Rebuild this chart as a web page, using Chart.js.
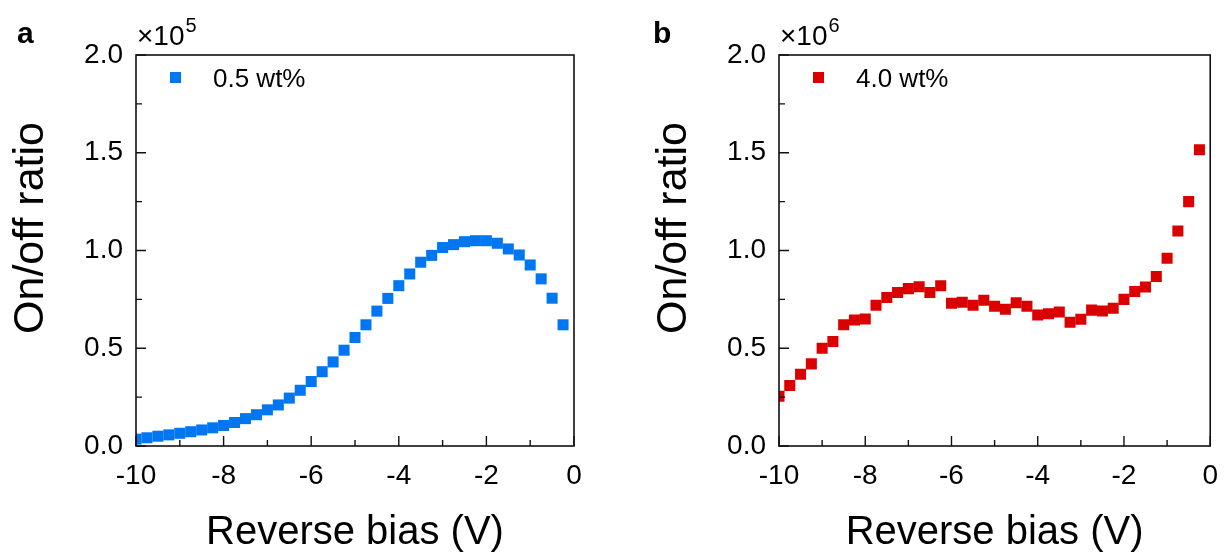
<!DOCTYPE html>
<html>
<head>
<meta charset="utf-8">
<title>On/off ratio vs reverse bias</title>
<script src="https://cdn.jsdelivr.net/npm/chart.js@4.4.1/dist/chart.umd.min.js"></script>
<style>
  html, body { margin: 0; padding: 0; background: #fff; }
  body { width: 1231px; height: 557px; position: relative; overflow: hidden; }
  .panel { position: absolute; top: 0; height: 557px; }
  #panelA { left: 0; width: 615px; }
  #panelB { left: 640px; width: 591px; }
</style>
</head>
<body>
<div class="panel" id="panelA"><canvas id="chartA"></canvas></div>
<div class="panel" id="panelB"><canvas id="chartB"></canvas></div>
<script>
// Reverse bias (V), one reading every 0.25 V
const reverseBias = [
  -10, -9.75, -9.5, -9.25, -9, -8.75, -8.5, -8.25, -8, -7.75,
  -7.5, -7.25, -7, -6.75, -6.5, -6.25, -6, -5.75, -5.5, -5.25,
  -5, -4.75, -4.5, -4.25, -4, -3.75, -3.5, -3.25, -3, -2.75,
  -2.5, -2.25, -2, -1.75, -1.5, -1.25, -1, -0.75, -0.5, -0.25
];

// On/off ratio, 0.5 wt% (units of 1e5)
const ratioA = [
  0.035, 0.042, 0.05, 0.057, 0.065, 0.073, 0.082, 0.093, 0.105, 0.12,
  0.14, 0.16, 0.185, 0.21, 0.245, 0.285, 0.33, 0.38, 0.43, 0.49,
  0.555, 0.62, 0.69, 0.755, 0.82, 0.88, 0.94, 0.975, 1.015, 1.03,
  1.045, 1.05, 1.05, 1.037, 1.008, 0.977, 0.926, 0.855, 0.756, 0.62
];

// On/off ratio, 4.0 wt% (units of 1e6)
const ratioB = [
  0.255, 0.31, 0.367, 0.42, 0.5, 0.535, 0.62, 0.645, 0.65, 0.72,
  0.76, 0.785, 0.805, 0.815, 0.785, 0.82, 0.73, 0.735, 0.72, 0.745,
  0.715, 0.7, 0.733, 0.715, 0.67, 0.677, 0.685, 0.633, 0.648, 0.695,
  0.69, 0.705, 0.75, 0.79, 0.813, 0.867, 0.96, 1.1, 1.25, 1.515
];

const xTicks = [-10, -8, -6, -4, -2, 0];
const xMinorTicks = [-9, -7, -5, -3, -1];
const yTicks = [0, 0.5, 1.0, 1.5, 2.0];
const yMinorTicks = [0.25, 0.75, 1.25, 1.75];

const FONT = '"Liberation Sans", Arial, Helvetica, sans-serif';
Chart.defaults.font.family = FONT;
Chart.defaults.color = '#000';

// frame, inward ticks, y title, multiplier, panel letter and legend
const framePlugin = {
  id: 'frame',
  afterDraw(chart, args, opts) {
    const { ctx, chartArea: a } = chart;
    const x = chart.scales.x, y = chart.scales.y;
    ctx.save();
    ctx.strokeStyle = '#111';
    ctx.lineWidth = 1.6;
    ctx.strokeRect(a.left, a.top, a.right - a.left, a.bottom - a.top);

    ctx.lineWidth = 1.4;
    ctx.beginPath();
    xTicks.forEach(v => { const p = x.getPixelForValue(v); ctx.moveTo(p, a.bottom); ctx.lineTo(p, a.bottom - 10); });
    xMinorTicks.forEach(v => { const p = x.getPixelForValue(v); ctx.moveTo(p, a.bottom); ctx.lineTo(p, a.bottom - 6); });
    yTicks.forEach(v => { const p = y.getPixelForValue(v); ctx.moveTo(a.left, p); ctx.lineTo(a.left + 10, p); });
    yMinorTicks.forEach(v => { const p = y.getPixelForValue(v); ctx.moveTo(a.left, p); ctx.lineTo(a.left + 6, p); });
    ctx.stroke();

    ctx.fillStyle = '#000';

    // y axis title, rotated
    ctx.save();
    ctx.translate(a.left - 105, 228);
    ctx.rotate(-Math.PI / 2);
    ctx.textAlign = 'center';
    ctx.textBaseline = 'middle';
    ctx.font = '43px ' + FONT;
    ctx.fillText('On/off ratio', 0, 0);
    ctx.restore();

    ctx.textBaseline = 'alphabetic';
    ctx.textAlign = 'left';
    // x10^n above the y axis
    ctx.font = '28px ' + FONT;
    ctx.fillText('\u00d710', a.left + 1, 45);
    const w = ctx.measureText('\u00d710').width;
    ctx.font = '20px ' + FONT;
    ctx.fillText(opts.exponent, a.left + 2 + w, 32);

    // panel letter
    ctx.font = 'bold 30px ' + FONT;
    ctx.fillText(opts.letter, opts.letterX, 43);

    // legend
    const ds = chart.data.datasets[0];
    ctx.fillStyle = ds.backgroundColor;
    ctx.fillRect(a.left + 34, 72, 11, 11);
    ctx.fillStyle = '#000';
    ctx.font = '26px ' + FONT;
    ctx.fillText(ds.label, a.left + 77, 87);
    ctx.restore();
  }
};

function makeChart(canvasId, values, color, label, exponent, letter, letterX, yWidth, padRight) {
  const points = reverseBias.map((v, i) => ({ x: v, y: values[i] }));
  return new Chart(document.getElementById(canvasId), {
    type: 'scatter',
    data: {
      datasets: [{
        label: label,
        data: points,
        backgroundColor: color,
        borderWidth: 0,
        pointStyle: 'rect',
        pointRadius: 7.8,
        pointHoverRadius: 7.8,
        clip: 0
      }]
    },
    options: {
      responsive: true,
      maintainAspectRatio: false,
      animation: false,
      events: [],
      layout: { padding: { top: 55, right: padRight, bottom: 0, left: 0 } },
      plugins: {
        legend: { display: false },
        tooltip: { enabled: false },
        frame: { exponent: exponent, letter: letter, letterX: letterX }
      },
      scales: {
        x: {
          type: 'linear',
          min: -10,
          max: 0,
          afterBuildTicks: s => { s.ticks = xTicks.map(v => ({ value: v })); },
          afterFit: s => { s.height = 111; },
          grid: { display: false, drawTicks: false },
          border: { display: false },
          ticks: { font: { size: 28 }, padding: 13, maxRotation: 0 },
          title: {
            display: true,
            text: 'Reverse bias (V)',
            font: { size: 40 },
            padding: { top: 0, bottom: 0 }
          }
        },
        y: {
          type: 'linear',
          min: 0,
          max: 2,
          afterBuildTicks: s => { s.ticks = yTicks.map(v => ({ value: v })); },
          afterFit: s => { s.width = yWidth; },
          grid: { display: false, drawTicks: false },
          border: { display: false },
          ticks: { font: { size: 28 }, padding: 13, callback: v => v.toFixed(1) },
          title: { display: false }
        }
      }
    },
    plugins: [framePlugin]
  });
}

makeChart('chartA', ratioA, 'rgb(0, 118, 240)', '0.5 wt%', '5', 'a', 17, 136, 41);
makeChart('chartB', ratioB, 'rgb(218, 0, 0)', '4.0 wt%', '6', 'b', 13, 139, 16);
</script>
</body>
</html>
